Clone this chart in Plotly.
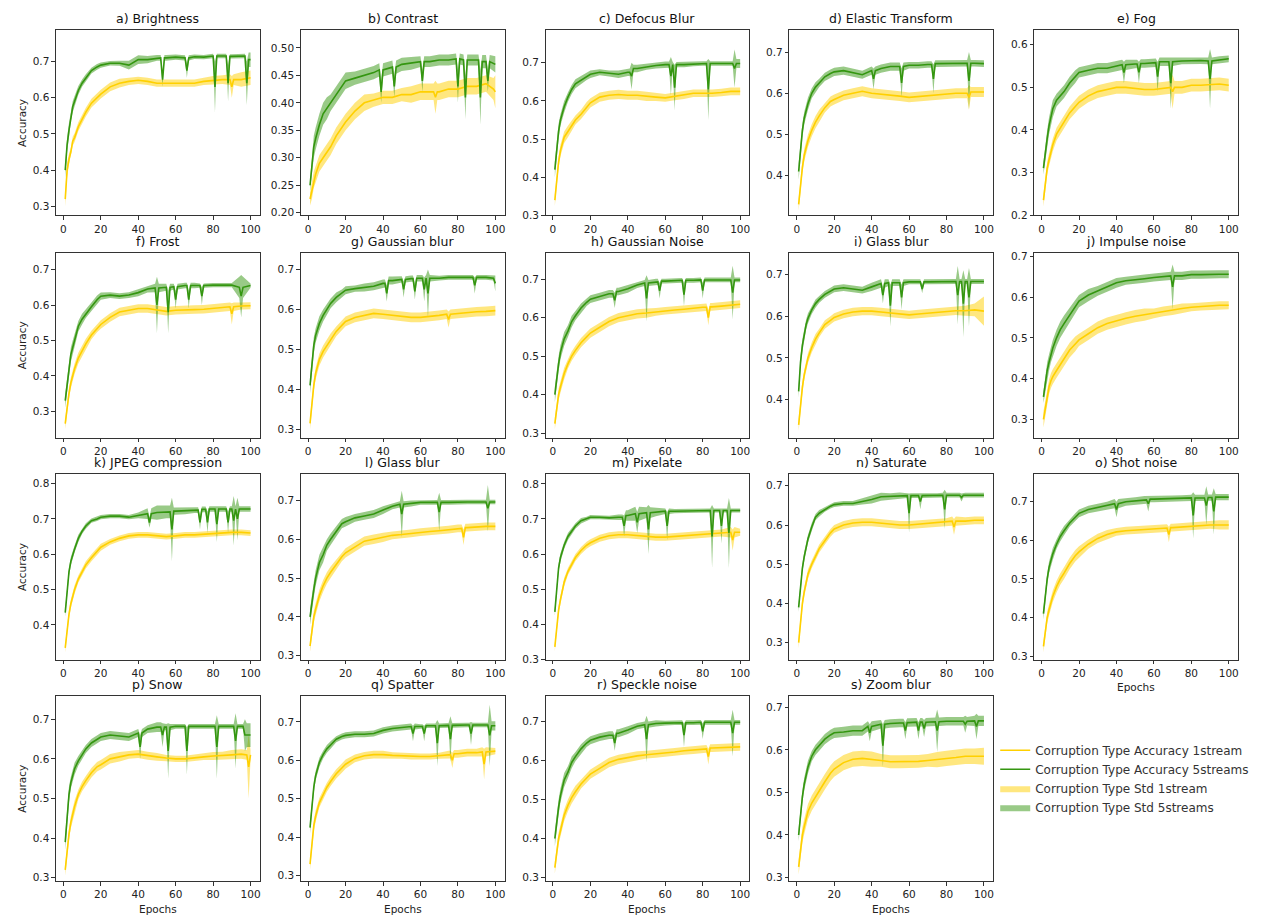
import plotly.graph_objects as go

epochs = [1, 2, 3, 4, 5, 6, 8, 10, 12, 15, 18, 20, 25, 30, 35, 40, 45, 50, 55, 60, 65, 70, 75, 80, 85, 90, 95, 100]

titles = ["a) Brightness", "b) Contrast", "c) Defocus Blur", "d) Elastic Transform", "e) Fog",
          "f) Frost", "g) Gaussian blur", "h) Gaussian Noise", "i) Glass blur", "j) Impulse noise",
          "k) JPEG compression", "l) Glass blur", "m) Pixelate", "n) Saturate", "o) Shot noise",
          "p) Snow", "q) Spatter", "r) Speckle noise", "s) Zoom blur"]

y_ranges = [[0.275, 0.786], [0.195, 0.532], [0.300, 0.785], [0.303, 0.753], [0.199, 0.634],
            [0.225, 0.748], [0.279, 0.742], [0.288, 0.769], [0.309, 0.752], [0.255, 0.709],
            [0.302, 0.826], [0.290, 0.767], [0.299, 0.827], [0.257, 0.729], [0.291, 0.771],
            [0.291, 0.758], [0.285, 0.767], [0.290, 0.765], [0.291, 0.726]]

# mean accuracy, 1 stream
acc_1s = [
    [0.32, 0.40, 0.43, 0.45, 0.48, 0.49, 0.52, 0.54, 0.56, 0.585, 0.60, 0.61, 0.63, 0.64, 0.645, 0.648, 0.645, 0.64, 0.64, 0.64, 0.642, 0.64, 0.645, 0.648, 0.65, 0.65, 0.65, 0.655],
    [0.225, 0.24, 0.26, 0.27, 0.28, 0.29, 0.30, 0.31, 0.32, 0.34, 0.355, 0.365, 0.385, 0.40, 0.405, 0.41, 0.41, 0.415, 0.415, 0.42, 0.42, 0.42, 0.425, 0.425, 0.43, 0.43, 0.435, 0.425],
    [0.34, 0.40, 0.44, 0.47, 0.49, 0.505, 0.52, 0.535, 0.55, 0.565, 0.585, 0.595, 0.61, 0.615, 0.617, 0.615, 0.615, 0.612, 0.61, 0.608, 0.612, 0.615, 0.62, 0.62, 0.62, 0.622, 0.625, 0.625],
    [0.33, 0.38, 0.42, 0.45, 0.47, 0.485, 0.51, 0.53, 0.545, 0.565, 0.58, 0.585, 0.595, 0.60, 0.605, 0.60, 0.598, 0.595, 0.593, 0.59, 0.592, 0.595, 0.597, 0.598, 0.60, 0.60, 0.603, 0.603],
    [0.235, 0.28, 0.31, 0.33, 0.35, 0.365, 0.39, 0.405, 0.42, 0.44, 0.455, 0.465, 0.48, 0.49, 0.495, 0.50, 0.50, 0.498, 0.495, 0.495, 0.498, 0.50, 0.50, 0.505, 0.505, 0.507, 0.508, 0.505],
    [0.265, 0.31, 0.35, 0.38, 0.40, 0.42, 0.45, 0.47, 0.49, 0.515, 0.535, 0.545, 0.565, 0.58, 0.585, 0.59, 0.59, 0.585, 0.582, 0.585, 0.585, 0.587, 0.588, 0.59, 0.592, 0.595, 0.597, 0.598],
    [0.315, 0.37, 0.41, 0.44, 0.46, 0.475, 0.495, 0.51, 0.525, 0.545, 0.56, 0.57, 0.58, 0.585, 0.59, 0.588, 0.585, 0.582, 0.58, 0.58, 0.582, 0.585, 0.588, 0.59, 0.592, 0.594, 0.595, 0.597],
    [0.325, 0.37, 0.40, 0.42, 0.44, 0.455, 0.48, 0.50, 0.515, 0.535, 0.55, 0.56, 0.575, 0.59, 0.60, 0.605, 0.61, 0.612, 0.615, 0.618, 0.62, 0.622, 0.625, 0.627, 0.628, 0.63, 0.632, 0.635],
    [0.34, 0.39, 0.43, 0.46, 0.48, 0.50, 0.525, 0.545, 0.56, 0.58, 0.59, 0.597, 0.605, 0.61, 0.612, 0.612, 0.61, 0.608, 0.605, 0.603, 0.605, 0.607, 0.61, 0.612, 0.613, 0.613, 0.615, 0.612],
    [0.30, 0.33, 0.36, 0.38, 0.395, 0.405, 0.42, 0.435, 0.45, 0.47, 0.485, 0.495, 0.51, 0.525, 0.535, 0.542, 0.548, 0.553, 0.557, 0.56, 0.565, 0.568, 0.572, 0.575, 0.577, 0.578, 0.58, 0.58],
    [0.335, 0.39, 0.43, 0.46, 0.485, 0.50, 0.53, 0.55, 0.57, 0.59, 0.61, 0.62, 0.635, 0.645, 0.652, 0.655, 0.655, 0.653, 0.65, 0.652, 0.655, 0.655, 0.657, 0.66, 0.66, 0.662, 0.662, 0.66],
    [0.325, 0.37, 0.40, 0.42, 0.44, 0.455, 0.48, 0.50, 0.515, 0.535, 0.555, 0.565, 0.58, 0.595, 0.60, 0.605, 0.61, 0.612, 0.615, 0.618, 0.62, 0.622, 0.625, 0.628, 0.63, 0.632, 0.633, 0.633],
    [0.335, 0.40, 0.44, 0.47, 0.50, 0.52, 0.55, 0.57, 0.59, 0.61, 0.625, 0.632, 0.645, 0.652, 0.655, 0.655, 0.652, 0.65, 0.648, 0.648, 0.65, 0.652, 0.655, 0.657, 0.66, 0.66, 0.662, 0.662],
    [0.30, 0.36, 0.40, 0.43, 0.455, 0.475, 0.50, 0.52, 0.54, 0.56, 0.58, 0.59, 0.60, 0.605, 0.607, 0.607, 0.605, 0.602, 0.60, 0.60, 0.602, 0.603, 0.605, 0.607, 0.61, 0.61, 0.612, 0.612],
    [0.325, 0.37, 0.40, 0.42, 0.44, 0.455, 0.48, 0.50, 0.515, 0.54, 0.56, 0.57, 0.59, 0.605, 0.615, 0.622, 0.625, 0.627, 0.628, 0.63, 0.632, 0.633, 0.635, 0.637, 0.638, 0.64, 0.64, 0.64],
    [0.32, 0.37, 0.41, 0.44, 0.46, 0.48, 0.51, 0.53, 0.545, 0.565, 0.58, 0.585, 0.60, 0.605, 0.61, 0.612, 0.608, 0.605, 0.602, 0.60, 0.60, 0.603, 0.605, 0.607, 0.608, 0.61, 0.612, 0.61],
    [0.33, 0.39, 0.43, 0.455, 0.475, 0.49, 0.51, 0.53, 0.545, 0.565, 0.58, 0.59, 0.605, 0.612, 0.615, 0.615, 0.613, 0.612, 0.61, 0.61, 0.61, 0.612, 0.615, 0.617, 0.62, 0.62, 0.622, 0.624],
    [0.325, 0.37, 0.40, 0.42, 0.44, 0.46, 0.485, 0.505, 0.52, 0.54, 0.555, 0.565, 0.58, 0.595, 0.603, 0.608, 0.612, 0.615, 0.617, 0.62, 0.622, 0.625, 0.627, 0.63, 0.632, 0.633, 0.635, 0.635],
    [0.325, 0.37, 0.40, 0.42, 0.44, 0.455, 0.475, 0.49, 0.505, 0.525, 0.545, 0.555, 0.57, 0.578, 0.58, 0.578, 0.575, 0.572, 0.572, 0.572, 0.573, 0.575, 0.577, 0.58, 0.582, 0.585, 0.585, 0.585],
]

# std, 1 stream
std_1s = [
    [0.02, 0.02, 0.015, 0.012, 0.012, 0.012, 0.012, 0.012, 0.012, 0.012, 0.012, 0.012, 0.012, 0.012, 0.01, 0.01, 0.01, 0.01, 0.01, 0.01, 0.01, 0.01, 0.01, 0.012, 0.012, 0.015, 0.02, 0.02],
    [0.012, 0.015, 0.015, 0.015, 0.015, 0.015, 0.015, 0.015, 0.015, 0.015, 0.015, 0.015, 0.015, 0.015, 0.012, 0.012, 0.012, 0.012, 0.015, 0.015, 0.015, 0.015, 0.015, 0.015, 0.015, 0.015, 0.015, 0.02],
    [0.015, 0.015, 0.015, 0.015, 0.015, 0.015, 0.015, 0.015, 0.012, 0.012, 0.012, 0.012, 0.012, 0.012, 0.012, 0.012, 0.012, 0.012, 0.01, 0.01, 0.01, 0.01, 0.01, 0.01, 0.01, 0.01, 0.01, 0.01],
    [0.015, 0.015, 0.015, 0.015, 0.015, 0.015, 0.015, 0.015, 0.015, 0.012, 0.012, 0.012, 0.012, 0.012, 0.012, 0.012, 0.012, 0.012, 0.012, 0.012, 0.012, 0.012, 0.012, 0.012, 0.012, 0.012, 0.012, 0.012],
    [0.015, 0.015, 0.015, 0.015, 0.015, 0.015, 0.015, 0.015, 0.015, 0.015, 0.015, 0.015, 0.015, 0.015, 0.015, 0.015, 0.015, 0.015, 0.015, 0.015, 0.015, 0.015, 0.015, 0.015, 0.015, 0.015, 0.015, 0.015],
    [0.015, 0.015, 0.015, 0.015, 0.015, 0.015, 0.015, 0.015, 0.015, 0.012, 0.012, 0.012, 0.012, 0.012, 0.012, 0.012, 0.012, 0.012, 0.012, 0.012, 0.012, 0.012, 0.012, 0.012, 0.012, 0.012, 0.01, 0.01],
    [0.015, 0.015, 0.015, 0.015, 0.015, 0.015, 0.015, 0.015, 0.015, 0.012, 0.012, 0.012, 0.012, 0.012, 0.012, 0.012, 0.012, 0.012, 0.012, 0.012, 0.012, 0.012, 0.012, 0.012, 0.012, 0.012, 0.012, 0.012],
    [0.015, 0.015, 0.015, 0.015, 0.015, 0.015, 0.012, 0.012, 0.012, 0.012, 0.012, 0.012, 0.012, 0.012, 0.012, 0.012, 0.012, 0.012, 0.01, 0.01, 0.01, 0.01, 0.01, 0.01, 0.01, 0.01, 0.01, 0.01],
    [0.015, 0.015, 0.015, 0.012, 0.012, 0.012, 0.012, 0.012, 0.01, 0.01, 0.01, 0.01, 0.01, 0.01, 0.01, 0.01, 0.01, 0.01, 0.01, 0.01, 0.01, 0.01, 0.01, 0.01, 0.01, 0.012, 0.015, 0.035],
    [0.02, 0.02, 0.018, 0.018, 0.018, 0.018, 0.018, 0.018, 0.018, 0.018, 0.018, 0.015, 0.015, 0.015, 0.015, 0.015, 0.015, 0.015, 0.015, 0.012, 0.012, 0.012, 0.012, 0.01, 0.01, 0.01, 0.01, 0.01],
    [0.012, 0.012, 0.012, 0.012, 0.012, 0.012, 0.01, 0.01, 0.01, 0.01, 0.01, 0.01, 0.008, 0.008, 0.008, 0.008, 0.008, 0.008, 0.008, 0.008, 0.008, 0.008, 0.008, 0.008, 0.008, 0.008, 0.008, 0.008],
    [0.015, 0.015, 0.015, 0.015, 0.015, 0.015, 0.015, 0.015, 0.015, 0.012, 0.012, 0.012, 0.012, 0.012, 0.012, 0.012, 0.01, 0.01, 0.01, 0.01, 0.01, 0.01, 0.01, 0.01, 0.01, 0.01, 0.01, 0.01],
    [0.012, 0.012, 0.012, 0.012, 0.012, 0.012, 0.01, 0.01, 0.01, 0.01, 0.01, 0.01, 0.01, 0.01, 0.01, 0.01, 0.01, 0.01, 0.01, 0.01, 0.01, 0.01, 0.01, 0.01, 0.01, 0.01, 0.015, 0.01],
    [0.015, 0.015, 0.012, 0.012, 0.012, 0.012, 0.01, 0.01, 0.01, 0.01, 0.01, 0.01, 0.01, 0.01, 0.01, 0.01, 0.01, 0.01, 0.01, 0.01, 0.01, 0.01, 0.01, 0.01, 0.012, 0.01, 0.01, 0.01],
    [0.015, 0.015, 0.015, 0.015, 0.015, 0.015, 0.015, 0.015, 0.015, 0.015, 0.015, 0.015, 0.012, 0.012, 0.012, 0.01, 0.01, 0.01, 0.01, 0.01, 0.01, 0.01, 0.01, 0.01, 0.01, 0.01, 0.012, 0.012],
    [0.015, 0.015, 0.015, 0.015, 0.015, 0.015, 0.012, 0.012, 0.012, 0.012, 0.012, 0.012, 0.012, 0.012, 0.01, 0.01, 0.01, 0.01, 0.008, 0.008, 0.008, 0.008, 0.008, 0.01, 0.01, 0.012, 0.012, 0.012],
    [0.015, 0.015, 0.015, 0.015, 0.015, 0.012, 0.012, 0.012, 0.012, 0.012, 0.012, 0.012, 0.01, 0.01, 0.01, 0.01, 0.008, 0.008, 0.008, 0.008, 0.008, 0.008, 0.01, 0.01, 0.01, 0.01, 0.012, 0.008],
    [0.015, 0.015, 0.015, 0.015, 0.015, 0.015, 0.015, 0.015, 0.015, 0.012, 0.012, 0.012, 0.012, 0.012, 0.012, 0.012, 0.012, 0.01, 0.01, 0.01, 0.01, 0.01, 0.01, 0.01, 0.01, 0.01, 0.01, 0.01],
    [0.018, 0.018, 0.018, 0.018, 0.018, 0.018, 0.018, 0.018, 0.018, 0.018, 0.018, 0.018, 0.018, 0.018, 0.018, 0.018, 0.015, 0.015, 0.015, 0.015, 0.015, 0.015, 0.018, 0.018, 0.018, 0.018, 0.018, 0.02],
]

# mean accuracy, 5 streams
acc_5s = [
    [0.40, 0.47, 0.51, 0.55, 0.575, 0.59, 0.62, 0.64, 0.655, 0.675, 0.685, 0.69, 0.695, 0.695, 0.69, 0.705, 0.705, 0.71, 0.71, 0.712, 0.71, 0.713, 0.712, 0.715, 0.715, 0.714, 0.715, 0.705],
    [0.25, 0.29, 0.32, 0.335, 0.35, 0.36, 0.38, 0.39, 0.40, 0.415, 0.43, 0.44, 0.445, 0.45, 0.455, 0.46, 0.465, 0.47, 0.472, 0.475, 0.475, 0.478, 0.478, 0.48, 0.478, 0.478, 0.475, 0.47],
    [0.42, 0.48, 0.52, 0.55, 0.57, 0.585, 0.61, 0.63, 0.645, 0.655, 0.665, 0.67, 0.675, 0.672, 0.67, 0.675, 0.685, 0.69, 0.693, 0.695, 0.695, 0.695, 0.697, 0.698, 0.698, 0.698, 0.698, 0.698],
    [0.41, 0.47, 0.51, 0.54, 0.56, 0.575, 0.60, 0.615, 0.625, 0.64, 0.648, 0.652, 0.655, 0.65, 0.645, 0.655, 0.66, 0.665, 0.665, 0.668, 0.668, 0.67, 0.672, 0.672, 0.672, 0.673, 0.673, 0.672],
    [0.31, 0.35, 0.38, 0.41, 0.43, 0.45, 0.47, 0.48, 0.49, 0.51, 0.525, 0.535, 0.54, 0.545, 0.545, 0.55, 0.553, 0.555, 0.556, 0.558, 0.56, 0.56, 0.562, 0.563, 0.563, 0.562, 0.565, 0.567],
    [0.33, 0.38, 0.43, 0.46, 0.48, 0.50, 0.54, 0.56, 0.575, 0.595, 0.615, 0.625, 0.628, 0.625, 0.628, 0.635, 0.645, 0.648, 0.65, 0.652, 0.655, 0.655, 0.655, 0.656, 0.656, 0.656, 0.65, 0.655],
    [0.41, 0.47, 0.51, 0.535, 0.55, 0.565, 0.585, 0.60, 0.615, 0.63, 0.64, 0.648, 0.652, 0.655, 0.658, 0.665, 0.672, 0.675, 0.677, 0.678, 0.678, 0.678, 0.68, 0.68, 0.68, 0.68, 0.68, 0.678],
    [0.40, 0.45, 0.48, 0.51, 0.53, 0.545, 0.565, 0.59, 0.605, 0.625, 0.64, 0.648, 0.655, 0.662, 0.668, 0.675, 0.685, 0.69, 0.693, 0.695, 0.696, 0.697, 0.697, 0.698, 0.698, 0.698, 0.698, 0.698],
    [0.42, 0.49, 0.53, 0.56, 0.58, 0.595, 0.615, 0.63, 0.64, 0.652, 0.66, 0.665, 0.668, 0.665, 0.662, 0.67, 0.678, 0.68, 0.68, 0.682, 0.682, 0.682, 0.682, 0.683, 0.683, 0.683, 0.683, 0.683],
    [0.355, 0.39, 0.42, 0.44, 0.46, 0.475, 0.50, 0.52, 0.535, 0.555, 0.575, 0.59, 0.605, 0.615, 0.625, 0.635, 0.64, 0.642, 0.645, 0.648, 0.65, 0.652, 0.652, 0.655, 0.655, 0.656, 0.656, 0.656],
    [0.435, 0.50, 0.55, 0.58, 0.60, 0.615, 0.645, 0.665, 0.68, 0.695, 0.70, 0.705, 0.708, 0.708, 0.705, 0.71, 0.715, 0.718, 0.72, 0.722, 0.723, 0.725, 0.727, 0.728, 0.728, 0.728, 0.728, 0.728],
    [0.40, 0.44, 0.47, 0.50, 0.52, 0.54, 0.56, 0.585, 0.60, 0.62, 0.64, 0.645, 0.655, 0.66, 0.665, 0.675, 0.685, 0.69, 0.692, 0.695, 0.695, 0.695, 0.695, 0.696, 0.696, 0.696, 0.696, 0.696],
    [0.435, 0.51, 0.56, 0.59, 0.61, 0.625, 0.65, 0.665, 0.68, 0.695, 0.70, 0.705, 0.705, 0.703, 0.705, 0.71, 0.715, 0.718, 0.72, 0.722, 0.722, 0.723, 0.724, 0.724, 0.724, 0.724, 0.724, 0.724],
    [0.39, 0.45, 0.49, 0.52, 0.545, 0.565, 0.595, 0.62, 0.63, 0.64, 0.648, 0.652, 0.655, 0.655, 0.66, 0.665, 0.672, 0.673, 0.675, 0.675, 0.675, 0.675, 0.675, 0.676, 0.676, 0.676, 0.676, 0.676],
    [0.41, 0.46, 0.50, 0.53, 0.55, 0.565, 0.59, 0.61, 0.625, 0.645, 0.66, 0.67, 0.68, 0.685, 0.69, 0.695, 0.70, 0.702, 0.705, 0.707, 0.708, 0.708, 0.709, 0.71, 0.71, 0.711, 0.712, 0.712],
    [0.39, 0.46, 0.51, 0.54, 0.56, 0.575, 0.595, 0.61, 0.625, 0.64, 0.65, 0.655, 0.66, 0.658, 0.655, 0.665, 0.675, 0.68, 0.68, 0.682, 0.682, 0.682, 0.682, 0.682, 0.682, 0.682, 0.682, 0.66],
    [0.425, 0.49, 0.53, 0.56, 0.58, 0.595, 0.615, 0.63, 0.64, 0.655, 0.662, 0.665, 0.668, 0.668, 0.67, 0.678, 0.683, 0.686, 0.688, 0.688, 0.69, 0.69, 0.691, 0.692, 0.692, 0.692, 0.692, 0.69],
    [0.40, 0.45, 0.48, 0.51, 0.53, 0.55, 0.57, 0.595, 0.61, 0.63, 0.645, 0.652, 0.66, 0.665, 0.67, 0.678, 0.688, 0.692, 0.695, 0.696, 0.697, 0.697, 0.697, 0.698, 0.698, 0.698, 0.698, 0.698],
    [0.40, 0.45, 0.49, 0.52, 0.545, 0.56, 0.585, 0.60, 0.61, 0.625, 0.635, 0.64, 0.642, 0.645, 0.645, 0.655, 0.66, 0.662, 0.663, 0.664, 0.665, 0.665, 0.666, 0.667, 0.667, 0.667, 0.668, 0.668],
]

# std, 5 streams
std_5s = [
    [0.02, 0.02, 0.02, 0.015, 0.015, 0.015, 0.012, 0.01, 0.01, 0.008, 0.008, 0.007, 0.006, 0.007, 0.012, 0.012, 0.01, 0.008, 0.008, 0.007, 0.007, 0.006, 0.006, 0.006, 0.006, 0.006, 0.006, 0.02],
    [0.01, 0.015, 0.02, 0.02, 0.02, 0.02, 0.02, 0.02, 0.015, 0.015, 0.015, 0.015, 0.012, 0.012, 0.012, 0.012, 0.012, 0.012, 0.012, 0.01, 0.01, 0.01, 0.01, 0.01, 0.01, 0.01, 0.012, 0.015],
    [0.02, 0.02, 0.02, 0.015, 0.015, 0.015, 0.012, 0.012, 0.012, 0.01, 0.01, 0.01, 0.008, 0.008, 0.01, 0.01, 0.01, 0.008, 0.008, 0.008, 0.007, 0.007, 0.006, 0.006, 0.006, 0.006, 0.006, 0.012],
    [0.02, 0.02, 0.018, 0.015, 0.015, 0.015, 0.012, 0.012, 0.01, 0.01, 0.01, 0.01, 0.01, 0.01, 0.01, 0.01, 0.01, 0.01, 0.01, 0.008, 0.008, 0.008, 0.008, 0.008, 0.008, 0.008, 0.008, 0.008],
    [0.015, 0.02, 0.02, 0.02, 0.02, 0.02, 0.015, 0.015, 0.015, 0.015, 0.015, 0.012, 0.012, 0.012, 0.012, 0.012, 0.012, 0.01, 0.01, 0.01, 0.01, 0.01, 0.008, 0.008, 0.008, 0.008, 0.008, 0.008],
    [0.02, 0.02, 0.02, 0.02, 0.02, 0.02, 0.015, 0.015, 0.012, 0.012, 0.012, 0.01, 0.008, 0.008, 0.008, 0.01, 0.01, 0.012, 0.01, 0.008, 0.008, 0.008, 0.006, 0.006, 0.006, 0.006, 0.03, 0.006],
    [0.02, 0.02, 0.02, 0.018, 0.018, 0.018, 0.015, 0.015, 0.012, 0.012, 0.01, 0.01, 0.008, 0.01, 0.01, 0.01, 0.01, 0.008, 0.008, 0.008, 0.008, 0.006, 0.006, 0.006, 0.006, 0.006, 0.006, 0.006],
    [0.02, 0.02, 0.02, 0.018, 0.018, 0.018, 0.015, 0.015, 0.012, 0.012, 0.01, 0.01, 0.01, 0.01, 0.01, 0.01, 0.008, 0.008, 0.008, 0.006, 0.006, 0.006, 0.006, 0.006, 0.006, 0.006, 0.006, 0.006],
    [0.015, 0.015, 0.015, 0.012, 0.012, 0.012, 0.01, 0.01, 0.008, 0.008, 0.008, 0.008, 0.008, 0.008, 0.008, 0.01, 0.01, 0.008, 0.008, 0.006, 0.006, 0.006, 0.006, 0.006, 0.006, 0.006, 0.006, 0.006],
    [0.015, 0.02, 0.02, 0.02, 0.02, 0.02, 0.02, 0.02, 0.02, 0.02, 0.018, 0.015, 0.015, 0.012, 0.012, 0.012, 0.01, 0.01, 0.01, 0.01, 0.01, 0.01, 0.01, 0.01, 0.01, 0.01, 0.01, 0.01],
    [0.012, 0.012, 0.012, 0.012, 0.01, 0.01, 0.01, 0.008, 0.008, 0.006, 0.006, 0.006, 0.006, 0.006, 0.006, 0.008, 0.015, 0.02, 0.018, 0.01, 0.01, 0.008, 0.008, 0.008, 0.008, 0.008, 0.008, 0.008],
    [0.02, 0.02, 0.02, 0.02, 0.02, 0.02, 0.02, 0.015, 0.015, 0.012, 0.012, 0.012, 0.01, 0.01, 0.01, 0.01, 0.008, 0.008, 0.008, 0.006, 0.006, 0.006, 0.006, 0.006, 0.006, 0.006, 0.006, 0.006],
    [0.012, 0.012, 0.012, 0.012, 0.01, 0.01, 0.01, 0.008, 0.008, 0.008, 0.006, 0.006, 0.006, 0.006, 0.008, 0.015, 0.02, 0.015, 0.012, 0.008, 0.006, 0.006, 0.006, 0.006, 0.006, 0.006, 0.006, 0.006],
    [0.012, 0.012, 0.012, 0.012, 0.01, 0.01, 0.01, 0.008, 0.008, 0.006, 0.006, 0.006, 0.006, 0.006, 0.008, 0.01, 0.01, 0.008, 0.008, 0.006, 0.006, 0.006, 0.006, 0.006, 0.006, 0.006, 0.006, 0.006],
    [0.015, 0.015, 0.015, 0.015, 0.015, 0.015, 0.012, 0.012, 0.012, 0.01, 0.01, 0.01, 0.01, 0.01, 0.01, 0.012, 0.01, 0.01, 0.01, 0.008, 0.008, 0.008, 0.008, 0.008, 0.008, 0.008, 0.008, 0.008],
    [0.02, 0.02, 0.02, 0.015, 0.015, 0.015, 0.012, 0.012, 0.01, 0.01, 0.01, 0.01, 0.01, 0.01, 0.01, 0.01, 0.01, 0.012, 0.008, 0.006, 0.006, 0.006, 0.006, 0.006, 0.006, 0.006, 0.006, 0.03],
    [0.015, 0.015, 0.015, 0.012, 0.012, 0.012, 0.01, 0.01, 0.01, 0.008, 0.008, 0.008, 0.008, 0.008, 0.008, 0.008, 0.008, 0.008, 0.008, 0.006, 0.006, 0.006, 0.006, 0.006, 0.006, 0.006, 0.006, 0.012],
    [0.02, 0.02, 0.02, 0.018, 0.018, 0.018, 0.015, 0.015, 0.012, 0.012, 0.01, 0.01, 0.01, 0.01, 0.01, 0.01, 0.008, 0.008, 0.008, 0.006, 0.006, 0.006, 0.006, 0.006, 0.006, 0.006, 0.006, 0.006],
    [0.015, 0.015, 0.015, 0.015, 0.015, 0.015, 0.012, 0.012, 0.012, 0.012, 0.012, 0.012, 0.012, 0.012, 0.012, 0.012, 0.01, 0.01, 0.01, 0.01, 0.01, 0.01, 0.01, 0.01, 0.01, 0.01, 0.012, 0.012],
]

# sharp drops seen in single epochs: (epoch, mean, std)
spikes_1s = [
    [(90, 0.63, 0.03)], [(68, 0.41, 0.03), (100, 0.42, 0.03)], [], [(92, 0.59, 0.03)], [(70, 0.49, 0.04)],
    [(90, 0.575, 0.03)], [(75, 0.575, 0.02)], [(83, 0.60, 0.02)], [], [],
    [], [(83, 0.605, 0.02)], [(96, 0.64, 0.03)], [(84, 0.595, 0.02)], [(68, 0.615, 0.02)],
    [(99, 0.58, 0.08)], [(77, 0.60, 0.02), (94, 0.59, 0.04)], [(83, 0.61, 0.02)], [],
]

spikes_5s = [
    [(53, 0.65, 0.02), (66, 0.675, 0.02), (81, 0.63, 0.07), (88, 0.64, 0.05), (98, 0.64, 0.06)],
    [(39, 0.42, 0.02), (46, 0.43, 0.02), (61, 0.44, 0.02), (80, 0.43, 0.03), (84, 0.41, 0.04), (92, 0.41, 0.05), (96, 0.44, 0.02)],
    [(42, 0.665, 0.035), (63, 0.665, 0.05), (65, 0.635, 0.06), (83, 0.63, 0.08), (97, 0.685, 0.05)],
    [(41, 0.635, 0.025), (56, 0.625, 0.035), (73, 0.635, 0.035), (92, 0.63, 0.07)],
    [(44, 0.535, 0.025), (52, 0.535, 0.025), (62, 0.525, 0.035), (69, 0.51, 0.06), (90, 0.52, 0.07)],
    [(50, 0.60, 0.08), (56, 0.58, 0.06), (60, 0.615, 0.025), (67, 0.615, 0.025), (74, 0.625, 0.025), (95, 0.625, 0.06)],
    [(42, 0.64, 0.02), (51, 0.65, 0.02), (57, 0.645, 0.02), (62, 0.65, 0.03), (64, 0.64, 0.06), (89, 0.66, 0.02), (100, 0.665, 0.02)],
    [(33, 0.645, 0.02), (50, 0.65, 0.06), (57, 0.67, 0.02), (70, 0.66, 0.03), (80, 0.67, 0.02), (96, 0.665, 0.07)],
    [(46, 0.65, 0.02), (50, 0.625, 0.05), (56, 0.645, 0.03), (67, 0.665, 0.01), (86, 0.65, 0.07), (89, 0.63, 0.08), (92, 0.645, 0.07)],
    [(70, 0.625, 0.055)],
    [(46, 0.69, 0.015), (58, 0.67, 0.09), (73, 0.69, 0.02), (77, 0.69, 0.03), (82, 0.685, 0.05), (88, 0.69, 0.03), (91, 0.695, 0.07), (93, 0.70, 0.06)],
    [(50, 0.665, 0.06), (70, 0.67, 0.05), (96, 0.68, 0.06)],
    [(38, 0.68, 0.03), (45, 0.69, 0.03), (51, 0.67, 0.07), (61, 0.68, 0.04), (85, 0.65, 0.09), (90, 0.68, 0.05), (94, 0.66, 0.10)],
    [(60, 0.63, 0.05), (66, 0.66, 0.02), (79, 0.64, 0.05), (88, 0.67, 0.01)],
    [(40, 0.68, 0.02), (57, 0.695, 0.02), (81, 0.665, 0.06), (88, 0.69, 0.05), (92, 0.675, 0.06)],
    [(41, 0.63, 0.03), (53, 0.66, 0.03), (56, 0.62, 0.07), (66, 0.62, 0.06), (82, 0.63, 0.08), (92, 0.645, 0.07), (97, 0.66, 0.04)],
    [(56, 0.67, 0.02), (62, 0.67, 0.02), (69, 0.645, 0.06), (76, 0.655, 0.06), (87, 0.67, 0.03), (97, 0.665, 0.08)],
    [(33, 0.645, 0.02), (50, 0.655, 0.06), (70, 0.665, 0.03), (80, 0.675, 0.02), (96, 0.67, 0.06)],
    [(39, 0.64, 0.02), (46, 0.61, 0.05), (58, 0.645, 0.02), (65, 0.645, 0.02), (68, 0.65, 0.02), (75, 0.645, 0.05), (90, 0.66, 0.02), (96, 0.655, 0.03)],
]

W, H = 1261, 916
col_left = [48, 293, 538, 782, 1027]
row_top = [19.5, 244, 468, 692]
ax_w, ax_h = 204, 187

yellow = "rgb(255,208,0)"
yellow_band = "rgba(255,208,0,0.5)"
green = "rgb(52,150,16)"
green_band = "rgba(52,150,16,0.5)"

font = "DejaVu Sans"


def merged(means, stds, spikes):
    pts = dict(zip(epochs, zip(means, stds)))
    # a drop lasts one epoch: the curve sits at its plateau level on both sides
    shoulders = {}
    for e, m, s in spikes:
        for nb in (e - 1, e + 1):
            if 1 <= nb <= 100:
                near = min(epochs, key=lambda g: abs(g - nb))
                shoulders[nb] = pts[near]
    for e, m, s in spikes:
        pts[e] = (m, s)
    for nb, v in shoulders.items():
        if nb not in pts:
            pts[nb] = v
    xs = sorted(pts)
    return xs, [pts[e][0] for e in xs], [pts[e][1] for e in xs]


fig = go.Figure()
layout = {}
annotations = []

for i, title in enumerate(titles):
    r, c = divmod(i, 5)
    n = i + 1
    xa = "x" if n == 1 else "x%d" % n
    ya = "y" if n == 1 else "y%d" % n
    first = i == 0

    for means, stds, spikes, bc, stream, rank in [
        (acc_1s[i], std_1s[i], spikes_1s[i], yellow_band, "1stream", 3),
        (acc_5s[i], std_5s[i], spikes_5s[i], green_band, "5streams", 4),
    ]:
        xs, ys, ss = merged(means, stds, spikes)
        fig.add_trace(go.Scatter(x=xs, y=[m + s for m, s in zip(ys, ss)], xaxis=xa, yaxis=ya,
                                 mode="lines", line=dict(width=0, color=bc), showlegend=False,
                                 hoverinfo="skip"))
        fig.add_trace(go.Scatter(x=xs, y=[m - s for m, s in zip(ys, ss)], xaxis=xa, yaxis=ya,
                                 mode="lines", line=dict(width=0, color=bc), fill="tonexty",
                                 fillcolor=bc, name="Corruption Type Std " + stream,
                                 legendgroup="std" + stream, legendrank=rank, showlegend=first))

    for means, stds, spikes, lc, stream, rank in [
        (acc_1s[i], std_1s[i], spikes_1s[i], yellow, "1stream", 1),
        (acc_5s[i], std_5s[i], spikes_5s[i], green, "5streams", 2),
    ]:
        xs, ys, ss = merged(means, stds, spikes)
        fig.add_trace(go.Scatter(x=xs, y=ys, xaxis=xa, yaxis=ya, mode="lines",
                                 line=dict(width=1.6, color=lc),
                                 name="Corruption Type Accuracy " + stream,
                                 legendgroup="acc" + stream, legendrank=rank, showlegend=first))

    x0 = col_left[c] / W
    x1 = (col_left[c] + ax_w) / W
    y1 = 1 - row_top[r] / H
    y0 = 1 - (row_top[r] + ax_h) / H

    common = dict(showline=True, mirror=True, linecolor="#333", linewidth=1, ticks="outside",
                  ticklen=3.5, tickcolor="#333", showgrid=False, zeroline=False,
                  tickfont=dict(size=10.5, color="#222", family=font))
    layout["xaxis" if n == 1 else "xaxis%d" % n] = dict(
        domain=[x0, x1], anchor=ya, range=[-3.95, 104.95],
        tickvals=[0, 20, 40, 60, 80, 100], **common)
    if i == 1:
        ytick = dict(dtick=0.05, tick0=0, tickformat=".2f")
    else:
        ytick = dict(dtick=0.1, tick0=0, tickformat=".1f")
    layout["yaxis" if n == 1 else "yaxis%d" % n] = dict(
        domain=[y0, y1], anchor=xa, range=y_ranges[i], **ytick, **common)

    annotations.append(dict(text=title, xref="paper", yref="paper",
                            x=(col_left[c] + ax_w / 2) / W, y=1 - (row_top[r] - 2) / H,
                            xanchor="center", yanchor="bottom", showarrow=False,
                            font=dict(size=12.5, color="#111", family=font)))
    if c == 0:
        annotations.append(dict(text="Accuracy", xref="paper", yref="paper",
                                x=14 / W, y=1 - (row_top[r] + ax_h / 2) / H, textangle=-90,
                                xanchor="center", yanchor="middle", showarrow=False,
                                font=dict(size=10.5, color="#222", family=font)))
    if r == 3 or i == 14:
        annotations.append(dict(text="Epochs", xref="paper", yref="paper",
                                x=(col_left[c] + ax_w / 2) / W, y=1 - (row_top[r] + ax_h + 28) / H,
                                xanchor="center", yanchor="middle", showarrow=False,
                                font=dict(size=10.5, color="#222", family=font)))

fig.update_layout(
    width=W, height=H,
    margin=dict(l=0, r=0, t=0, b=0),
    paper_bgcolor="white", plot_bgcolor="white",
    font=dict(family=font, color="#222"),
    annotations=annotations,
    legend=dict(x=988 / W, y=1 - 732 / H, xanchor="left", yanchor="top",
                font=dict(size=12, color="#333", family=font),
                bgcolor="rgba(0,0,0,0)", itemwidth=30, tracegroupgap=0),
    **layout,
)

fig.write_html("out.html")
